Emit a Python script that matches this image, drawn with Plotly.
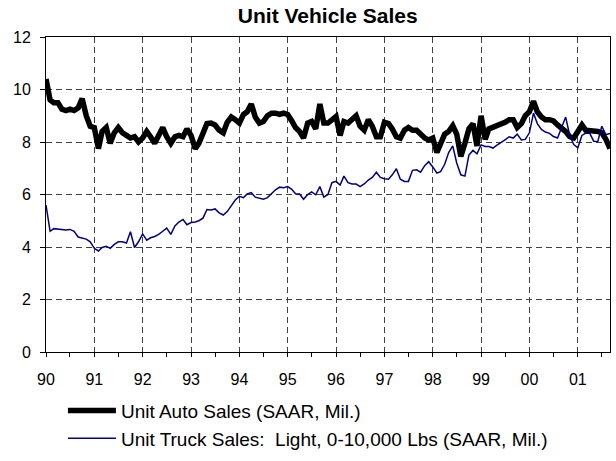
import pandas as pd
import plotly.graph_objects as go

# ====== DATA (monthly, Jan 1990 - Sep 2001, SAAR millions) ======
start_month = "1990-01-01"

auto_sales = [
    10.4, 9.6, 9.5, 9.5, 9.25, 9.2, 9.25, 9.2, 9.3, 9.65, 9.0, 8.6,
    8.55, 7.75, 8.4, 8.55, 7.95, 8.35, 8.55, 8.35, 8.25, 8.15, 8.2, 8.0,
    8.15, 8.4, 8.2, 7.95, 8.25, 8.55, 8.2, 7.95, 8.2, 8.25, 8.2, 8.5,
    8.25, 7.75, 7.95, 8.3, 8.7, 8.72, 8.65, 8.45, 8.35, 8.75, 8.95, 8.85,
    8.72, 9.05, 9.15, 9.45, 8.95, 8.72, 8.78, 9.0, 9.1, 9.1, 9.05, 9.1,
    9.05, 8.8, 8.55, 8.4, 8.15, 8.72, 8.78, 8.5, 9.45, 8.72, 8.72, 8.84,
    8.97, 8.25, 8.78, 8.72, 8.85, 9.0, 8.6, 8.45, 8.85, 8.6, 8.2, 8.2,
    8.75, 8.7, 8.5, 8.2, 8.15, 8.45, 8.55, 8.45, 8.45, 8.3, 8.15, 8.08,
    8.15, 7.6, 7.95, 8.3, 8.4, 8.62, 8.3, 7.45, 7.95, 8.5, 8.7, 7.85,
    9.0, 8.1, 8.5, 8.55, 8.6, 8.7, 8.75, 8.85, 8.85, 8.55, 8.7, 9.0,
    9.15, 9.55, 9.15, 8.95, 8.85, 8.85, 8.8, 8.65, 8.55, 8.4, 8.2, 8.15,
    8.4, 8.65, 8.45, 8.45, 8.45, 8.4, 8.35, 8.1, 7.75,
]

truck_sales = [
    5.6, 4.6, 4.7, 4.68, 4.65, 4.65, 4.67, 4.6, 4.38, 4.35, 4.3, 4.2,
    3.95, 3.85, 3.98, 4.03, 3.95, 4.1, 4.2, 4.2, 4.15, 4.58, 3.98, 4.2,
    4.5, 4.26, 4.35, 4.4, 4.48, 4.6, 4.72, 4.48, 4.8, 4.95, 5.05, 4.85,
    4.93, 4.95, 5.0, 5.1, 5.43, 5.41, 5.45, 5.3, 5.22, 5.35, 5.58, 5.79,
    5.93, 5.88, 6.02, 6.07, 5.9, 5.85, 5.82, 5.88, 6.03, 6.18, 6.28, 6.26,
    6.3, 6.2, 6.03, 6.02, 5.82, 6.0, 6.1, 5.99, 6.3, 5.9, 6.0, 6.45,
    6.5, 6.36, 6.7, 6.45, 6.4, 6.4, 6.3, 6.4, 6.55, 6.65, 6.85, 6.65,
    6.6, 6.58, 6.75, 6.98, 6.58, 6.5, 6.5, 6.92, 6.94, 6.85, 7.1, 7.25,
    7.05, 6.82, 6.87, 7.15, 7.6, 7.85, 7.2, 6.75, 6.7, 7.5, 7.68, 7.55,
    7.89, 7.83, 7.83, 7.77, 7.88, 7.97, 8.08, 8.2, 8.15, 8.3, 8.08, 8.1,
    8.35, 9.1, 8.7, 8.48, 8.38, 8.33, 8.21, 8.15, 8.6, 8.95, 8.25, 7.9,
    7.78, 8.25, 8.34, 8.33, 8.03, 8.02, 8.6, 8.28, 8.33,
]

y_ticks = [0, 2, 4, 6, 8, 10, 12]

dates = pd.date_range(start_month, periods=len(auto_sales), freq="MS")

# ====== CREATE PLOT ======
fig = go.Figure()

fig.add_trace(go.Scatter(
    x=dates, y=auto_sales,
    mode="lines",
    name="Unit Auto Sales (SAAR, Mil.)",
    legendgroup="auto",
    line=dict(color="black", width=5.5),
))

fig.add_trace(go.Scatter(
    x=dates, y=truck_sales,
    mode="lines",
    name="Unit Truck Sales:  Light, 0-10,000 Lbs (SAAR, Mil.)",
    legendgroup="truck",
    line=dict(color="#000080", width=1.5),
))

grid = dict(showgrid=True, gridcolor="#404040", gridwidth=1, griddash="6px,4px")

# ====== LAYOUT ======
fig.update_layout(
    width=616, height=461,
    margin=dict(l=46, r=6, t=37, b=109, autoexpand=False),
    paper_bgcolor="white",
    plot_bgcolor="white",
    font=dict(family="Arial, Liberation Sans, sans-serif", size=16, color="black"),
    title=dict(
        text="<b>Unit Vehicle Sales</b>",
        x=0.532, xanchor="center",
        y=0.967, yanchor="middle",
        font=dict(size=21),
    ),
    showlegend=True,
    legend=dict(
        x=0.030, xanchor="left",
        y=-0.126, yanchor="top",
        traceorder="grouped",
        tracegroupgap=0,
        font=dict(size=19),
        bgcolor="rgba(0,0,0,0)",
        itemwidth=48,
    ),
    xaxis=dict(
        range=[dates[0], dates[-1]],
        dtick="M12",
        tick0=start_month,
        tickformat="%y",
        ticks="outside", ticklen=4, tickcolor="black",
        minor=dict(dtick="M6", ticks="outside", ticklen=4, tickcolor="black", showgrid=False),
        showline=True, linecolor="black", linewidth=1, mirror=True,
        ticklabelstandoff=9,
        tickfont=dict(size=16),
        zeroline=False,
        automargin=False,
        **grid,
    ),
    yaxis=dict(
        range=[0, 12],
        tickvals=y_ticks,
        ticks="outside", ticklen=5, tickcolor="black",
        showline=True, linecolor="black", linewidth=1, mirror=True,
        ticklabelstandoff=6,
        tickfont=dict(size=16),
        zeroline=False,
        automargin=False,
        **grid,
    ),
)

# drop the default page margin so the figure sits at the window's corner
fig.write_html(
    "out.html",
    config={"displayModeBar": False},
    post_script="document.body.style.margin = '0';",
)
